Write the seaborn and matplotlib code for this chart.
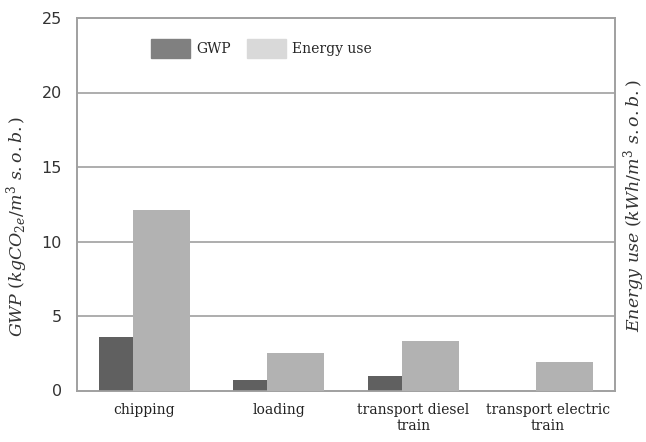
import matplotlib
matplotlib.use("Agg")
import matplotlib.pyplot as plt
import seaborn as sns
import pandas as pd
from matplotlib.patches import Patch

categories = ["chipping", "loading", "transport diesel\ntrain", "transport electric\ntrain"]
gwp = [3.6, 0.72, 1.0, 0.0]
energy = [12.1, 2.53, 3.34, 1.9]

sns.set_theme(style="white")
plt.rcParams["font.family"] = ["DejaVu Serif"]
plt.rcParams["mathtext.fontset"] = "dejavuserif"

df = pd.DataFrame({"cat": categories, "gwp": gwp, "energy": energy})

fig = plt.figure(figsize=(6.46, 4.42), dpi=100)
ax = fig.add_axes([77/646, 1 - 390.5/442, 538/646, 372.5/442])
ax2 = ax.twinx()

sns.barplot(data=df, x="cat", y="gwp", ax=ax, color="#606060", width=0.253,
            saturation=1, zorder=3)
sns.barplot(data=df, x="cat", y="energy", ax=ax2, color="#b2b2b2", width=0.424,
            saturation=1, zorder=3)

for p in ax.patches:
    p.set_x(p.get_x() - 0.21)
    p.set_edgecolor("none")
for p in ax2.patches:
    p.set_x(p.get_x() + 0.128)
    p.set_edgecolor("none")

for a in (ax, ax2):
    a.set_ylim(0, 25)
    a.set_xlim(-0.5, 3.5)
    for s in a.spines.values():
        s.set_color("#a0a0a0")
        s.set_linewidth(1.2)
ax.set_yticks([0, 5, 10, 15, 20, 25])
ax.tick_params(axis="y", length=0, labelsize=11.5, colors="#333333", pad=11)
for t in ax.get_yticklabels():
    t.set_family(["DejaVu Sans"])
ax.tick_params(axis="x", length=0, labelsize=10, colors="#222222", pad=9)
ax2.set_yticks([])
for y in [5, 10, 15, 20]:
    ax.axhline(y, color="#a0a0a0", lw=1.2, zorder=1)

ax.set_xlabel("")
ax.set_ylabel(r"$GWP\ (kgCO_{2e}/m^3\ s.o.b.)$", fontsize=12.5, color="#333333")
ax.yaxis.set_label_coords(-0.087, 0.44)
ax2.set_ylabel(r"$Energy\ use\ (kWh/m^3\ s.o.b.)$", fontsize=12.5, color="#333333",
               rotation=90)
ax2.yaxis.set_label_coords(1.012, 0.495)

handles = [Patch(color="#808080", label="GWP"), Patch(color="#d9d9d9", label="Energy use")]
ax.legend(handles=handles, loc="upper left", bbox_to_anchor=(0.115, 0.978), ncol=2,
          frameon=False, fontsize=10, handlelength=2.8, handleheight=1.75,
          columnspacing=1.2, handletextpad=0.4)

fig.savefig("out.png", dpi=100)
